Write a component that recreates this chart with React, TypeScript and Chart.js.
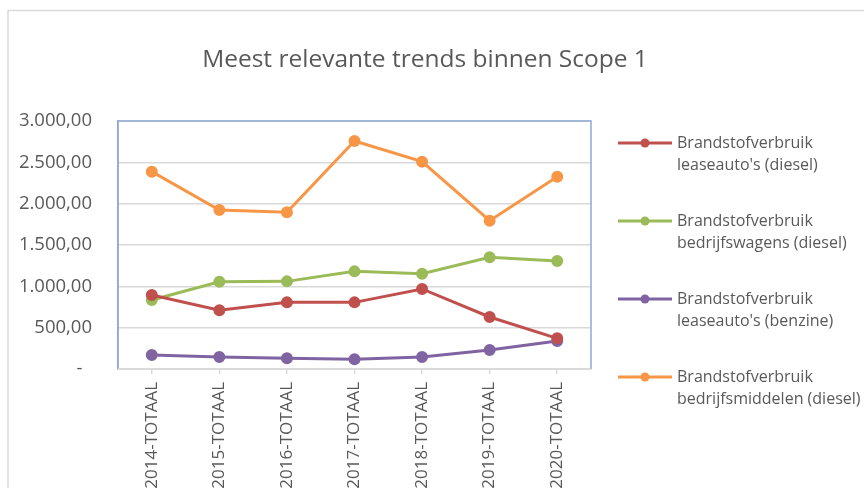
import React, { useEffect, useRef } from "react";
import { Chart, registerables } from "chart.js";

Chart.register(...registerables);

const chartTitle = "Meest relevante trends binnen Scope 1";
const categories = [
  "2014-TOTAAL",
  "2015-TOTAAL",
  "2016-TOTAAL",
  "2017-TOTAAL",
  "2018-TOTAAL",
  "2019-TOTAAL",
  "2020-TOTAAL",
];
const leaseautoDiesel = [895, 710, 806, 806, 968, 629, 371];
const bedrijfswagensDiesel = [835, 1056, 1060, 1181, 1153, 1351, 1306];
const leaseautoBenzine = [169, 145, 129, 117, 145, 230, 339];
const bedrijfsmiddelenDiesel = [2387, 1923, 1895, 2758, 2508, 1794, 2326];
const seriesLabels = [
  ["Brandstofverbruik", "leaseauto's (diesel)"],
  ["Brandstofverbruik", "bedrijfswagens (diesel)"],
  ["Brandstofverbruik", "leaseauto's (benzine)"],
  ["Brandstofverbruik", "bedrijfsmiddelen (diesel)"],
];
const seriesColors = ["#C0504D", "#9BBB59", "#8064A2", "#F79646"];
const yMin = 0;
const yMax = 3000;
const yStep = 500;

const FONT = "'Open Sans', 'Noto Sans', sans-serif";
const TEXT = "#595959";
const GRID = "#D9D9D9";
const FRAME_BLUE = "#8EA9D2";

function formatNL(v: number): string {
  if (v === 0) return "-  ";
  const fixed = v.toFixed(2);
  const [intPart, dec] = fixed.split(".");
  const withDots = intPart.replace(/\B(?=(\d{3})+(?!\d))/g, ".");
  return withDots + "," + dec;
}

const decorPlugin = {
  id: "decor",
  beforeDatasetsDraw(chart: any) {
    const { ctx, chartArea } = chart;
    ctx.save();
    ctx.strokeStyle = FRAME_BLUE;
    ctx.lineWidth = 1.5;
    ctx.beginPath();
    ctx.moveTo(chartArea.left, chartArea.bottom);
    ctx.lineTo(chartArea.left, chartArea.top);
    ctx.lineTo(chartArea.right, chartArea.top);
    ctx.lineTo(chartArea.right, chartArea.bottom);
    ctx.stroke();
    ctx.strokeStyle = GRID;
    ctx.beginPath();
    ctx.moveTo(chartArea.left, chartArea.bottom);
    ctx.lineTo(chartArea.right, chartArea.bottom);
    ctx.stroke();
    ctx.restore();
  },
  afterDraw(chart: any) {
    const { ctx } = chart;
    ctx.save();
    // outer frame
    ctx.strokeStyle = GRID;
    ctx.lineWidth = 1.5;
    ctx.beginPath();
    ctx.moveTo(8, 488);
    ctx.lineTo(8, 10.5);
    ctx.lineTo(864, 10.5);
    ctx.stroke();
    // title
    ctx.fillStyle = TEXT;
    ctx.font = `24.5px ${FONT}`;
    ctx.textAlign = "center";
    ctx.textBaseline = "alphabetic";
    ctx.fillText(chartTitle, 425, 67);
    // legend
    const ys = [143, 221, 299, 377];
    chart.data.datasets.forEach((ds: any, i: number) => {
      const y = ys[i];
      ctx.strokeStyle = ds.borderColor;
      ctx.lineWidth = 3;
      ctx.beginPath();
      ctx.moveTo(618, y);
      ctx.lineTo(672, y);
      ctx.stroke();
      ctx.fillStyle = ds.backgroundColor;
      ctx.beginPath();
      ctx.arc(645, y, 4.5, 0, Math.PI * 2);
      ctx.fill();
      ctx.fillStyle = TEXT;
      ctx.font = `16px ${FONT}`;
      ctx.textAlign = "left";
      ctx.textBaseline = "middle";
      const lines = seriesLabels[i];
      lines.forEach((t, j) => ctx.fillText(t, 677, y + j * 22));
    });
    ctx.restore();
  },
};

export default function App() {
  const ref = useRef<HTMLCanvasElement | null>(null);
  useEffect(() => {
    if (!ref.current) return;
    const series = [leaseautoDiesel, bedrijfswagensDiesel, leaseautoBenzine, bedrijfsmiddelenDiesel];
    const chart = new Chart(ref.current, {
      type: "line",
      data: {
        labels: categories,
        datasets: series.map((d, i) => ({
          label: seriesLabels[i].join(" "),
          data: d,
          borderColor: seriesColors[i],
          backgroundColor: seriesColors[i],
          pointBackgroundColor: seriesColors[i],
          pointBorderColor: seriesColors[i],
          borderWidth: 3,
          pointRadius: 4.5,
          tension: 0,
        })),
      },
      options: {
        responsive: false,
        animation: false,
        devicePixelRatio: 1,
        layout: { padding: { left: 0, top: 121, right: 864 - 591, bottom: 0 } },
        plugins: {
          legend: { display: false },
          title: { display: false },
          tooltip: { enabled: false },
        },
        scales: {
          x: {
            offset: true,
            grid: {
              display: true,
              drawOnChartArea: false,
              drawTicks: true,
              tickLength: 5,
              color: GRID,
              lineWidth: 1.5,
              offset: false,
            },
            border: { display: true, color: GRID, width: 1.5 },
            ticks: {
              color: TEXT,
              font: { family: FONT, size: 17 },
              maxRotation: 90,
              minRotation: 90,
              padding: 8,
              autoSkip: false,
            },
            afterFit: (s: any) => {
              s.height = 488 - 369;
            },
          },
          y: {
            min: yMin,
            max: yMax,
            grid: {
              color: GRID,
              lineWidth: 1.5,
              drawTicks: false,
            },
            border: { display: true, color: FRAME_BLUE, width: 1.5 },
            ticks: {
              stepSize: yStep,
              color: TEXT,
              font: { family: FONT, size: 18.5 },
              padding: 26,
              callback: (v: any) => formatNL(Number(v)),
            },
            afterFit: (s: any) => {
              s.width = 118;
            },
          },
        },
      },
      plugins: [decorPlugin],
    });
    return () => chart.destroy();
  }, []);
  return (
    <div style={{ position: "fixed", left: 0, top: 0, width: 864, height: 488, background: "#fff" }}>
      <canvas ref={ref} width={864} height={488} style={{ width: 864, height: 488, display: "block" }} />
    </div>
  );
}
